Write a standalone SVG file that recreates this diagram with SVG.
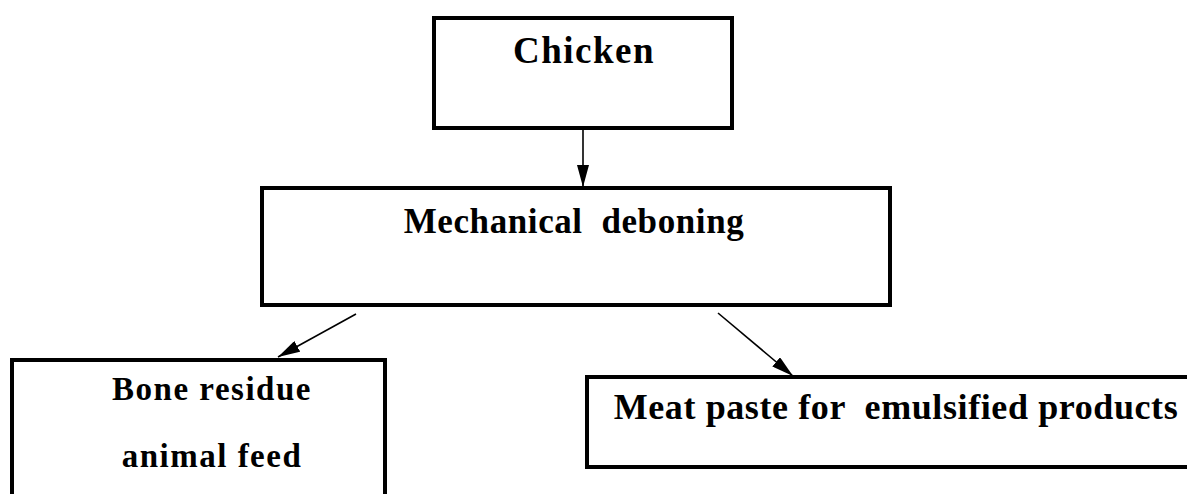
<svg xmlns="http://www.w3.org/2000/svg" width="1187" height="494" viewBox="0 0 1187 494">
<style>
.box{fill:#fff;stroke:#000;stroke-width:4}
.lbl{font-family:"Liberation Serif","Times New Roman",serif;font-weight:bold;fill:#000;text-anchor:middle}
.conn{stroke:#000;stroke-width:1.6;fill:none;marker-end:url(#ah)}
</style>
<defs>
<marker id="ah" markerUnits="userSpaceOnUse" markerWidth="24" markerHeight="12" refX="22" refY="6" orient="auto">
<path d="M0,0 L22,6 L0,12 Z" fill="#000"/>
</marker>
</defs>
<rect width="1187" height="494" fill="#fff"/>
<g id="connectors">
<line class="conn" x1="583" y1="128" x2="583" y2="187"/>
<line class="conn" x1="356" y1="314" x2="278" y2="357"/>
<line class="conn" x1="718" y1="313" x2="793" y2="376"/>
</g>
<g id="chicken">
<rect class="box" x="434" y="18" width="298" height="110"/>
<text class="lbl" x="584" y="63" font-size="37" letter-spacing="1.5">Chicken</text>
</g>
<g id="mechanical-deboning">
<rect class="box" x="262" y="188" width="628" height="117"/>
<text class="lbl" x="574" y="233" font-size="35" letter-spacing="0.6" xml:space="preserve">Mechanical  deboning</text>
</g>
<g id="bone-residue">
<rect class="box" x="12" y="360" width="373" height="150"/>
<text class="lbl" x="212" y="400" font-size="33" letter-spacing="1.5">Bone residue</text>
<text class="lbl" x="212" y="467" font-size="33" letter-spacing="1.5">animal feed</text>
</g>
<g id="meat-paste">
<rect class="box" x="587" y="377" width="620" height="90"/>
<text class="lbl" x="896" y="419" font-size="36" letter-spacing="0.6" xml:space="preserve">Meat paste for  emulsified products</text>
</g>
</svg>
